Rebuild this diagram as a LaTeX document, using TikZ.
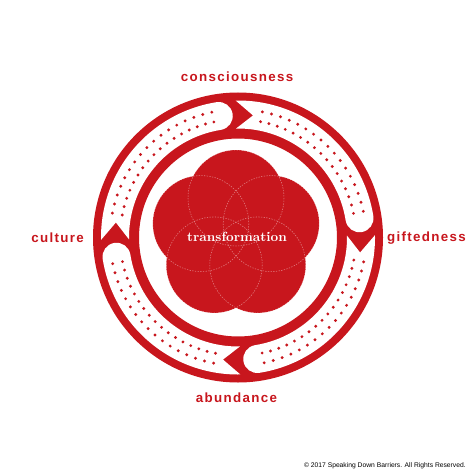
\documentclass[tikz,border=0pt]{standalone}
\usepackage{fontspec}
\newfontfamily\labelfont[LetterSpace=10]{Liberation Sans}
\newfontfamily\notefont{Liberation Sans}
\definecolor{ringred}{RGB}{200,22,29}

\begin{document}
\begin{tikzpicture}[x=0.75pt,y=0.75pt,yscale=-1,xscale=1,
  word/.style={text=ringred,inner sep=0.75pt,font=\labelfont\bfseries\fontsize{10}{12}\selectfont},
  petal/.style={draw=white,draw opacity=0.45,dash pattern={on 1pt off 1pt},line width=0.4pt}]
%set diagram to the 474 x 474 square
\useasboundingbox (0,0) rectangle (474,474);
\fill[white] (0,0) rectangle (474,474);

%Shape: Ring [outer and inner red circles]
\fill[ringred,even odd rule] (238,237.5) circle[radius=145] (238,237.5) circle[radius=99];

\begin{scope}[shift={(238,237.5)}]
%Shape: Arrow bands
\foreach \a in {0,90,180,270}{
  \fill[white] (\a-1:137) arc[start angle=\a-1,end angle=\a+81,radius=137]
    arc[start angle=\a+81,end angle=\a+261,radius=14]
    arc[start angle=\a+81,end angle=\a-1,radius=109]
    -- (\a+7:123) -- cycle;
  %dots in the band
  \foreach \t in {11,15.2,...,80}{
    \fill[ringred] (\a+\t:118) circle[radius=1.6];
    \fill[ringred] (\a+\t:128) circle[radius=1.6];
  }
}
\end{scope}

%Shape: Flower of five circles
\foreach \p in {270,342,54,126,198}
  \fill[ringred] (236,235) ++(\p:37) circle[radius=48];
\foreach \p in {270,342,54,126,198}
  \draw[petal] (236,235) ++(\p:37) circle[radius=48];

% Text Node
\draw (237,237) node [text=white,inner sep=0.75pt,font=\bfseries\fontsize{10}{12}\selectfont] (transf) {transformation};
% Text Node
\draw (237,77) node [word] (consc) {consciousness};
% Text Node
\draw (426.5,238) node [word] (gift) {giftedness};
% Text Node
\draw (236.5,398) node [word] (abund) {abundance};
% Text Node
\draw (57.5,238) node [word] (cult) {culture};
% Text Node
\draw (467,465.5) node [anchor=east,inner sep=0.75pt,font=\notefont\fontsize{5.05}{6}\selectfont] (copyr) {© 2017 Speaking Down Barriers. All Rights Reserved.};

\end{tikzpicture}
\end{document}
